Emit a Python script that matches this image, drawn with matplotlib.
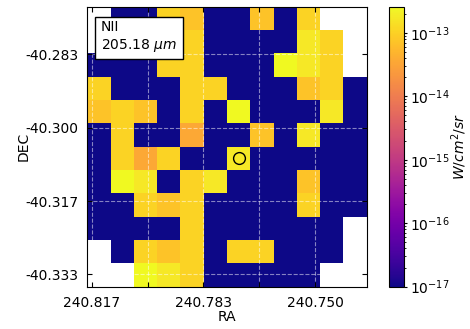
import numpy as np
import matplotlib
matplotlib.use("Agg")
import matplotlib.pyplot as plt
from matplotlib.colors import LogNorm

# ---- data ----
N = np.nan
B = 1e-17      # background (at colour floor)
Y1 = 2.5e-13   # brightest yellow
Y2 = 1.7e-13   # yellow
G = 1.05e-13   # gold
OG = 7.2e-14   # orange-gold
O = 3.5e-14    # orange

flux_rows = [
    [N, B, B, G, OG, B, B, OG, B, G, N, N],
    [N, B, B, G, G, B, B, B, B, Y2, G, N],
    [B, B, B, G, G, B, B, B, Y1, Y2, G, N],
    [G, B, B, B, G, G, B, B, B, OG, G, B],
    [OG, G, OG, B, G, B, Y1, B, B, B, Y2, B],
    [B, G, B, B, O, B, B, OG, B, Y2, B, B],
    [B, G, O, G, B, B, Y2, B, B, B, B, B],
    [B, Y1, Y2, B, G, Y2, B, B, B, OG, B, B],
    [B, B, G, OG, G, B, B, B, B, G, B, B],
    [B, B, B, B, G, B, B, B, B, B, B, N],
    [N, B, G, OG, G, B, G, G, B, B, B, N],
    [N, N, 2.57e-13, Y2, G, B, B, B, B, B, N, N],
]

ra_left, ra_step = 240.81798, 0.0069444
dec_top, dec_step = -40.27251, 0.005303
n_cells = 12

ra_ticks = [240.81667, 240.8, 240.78333, 240.76667, 240.75]
ra_labels = ["240.817", "", "240.783", "", "240.750"]
dec_ticks = [-40.28333, -40.3, -40.31667, -40.33333]
dec_labels = ["-40.283", "-40.300", "-40.317", "-40.333"]

source_ra, source_dec = 240.77284, -40.30698
line_name = "NII\n205.18 $\\mu m$"
vmin, vmax = 1e-17, 2.57e-13

# ---- plot ----
fig = plt.figure(figsize=(4.70, 3.29), dpi=100)
ax = fig.add_axes([0.1857, 0.1286, 0.5945, 0.851])
cax = fig.add_axes([0.8277, 0.1286, 0.0319, 0.851])

data = np.array(flux_rows)
ra_edges = ra_left - ra_step * np.arange(n_cells + 1)
dec_edges = dec_top - dec_step * np.arange(n_cells + 1)
mesh = ax.pcolormesh(ra_edges, dec_edges, np.ma.masked_invalid(data),
                     cmap="plasma", norm=LogNorm(vmin=vmin, vmax=vmax),
                     shading="flat", antialiased=True, linewidth=0)
ax.set_xlim(ra_edges[0], ra_edges[-1])
ax.set_ylim(dec_edges[-1], dec_edges[0])
ax.set_aspect("auto")

ax.plot([source_ra], [source_dec], marker="o", markersize=8.5,
        markerfacecolor="none", markeredgecolor="black", markeredgewidth=1.0)

ax.set_xticks(ra_ticks)
ax.set_xticklabels(ra_labels)
ax.set_yticks(dec_ticks)
ax.set_yticklabels(dec_labels)
ax.tick_params(direction="in", top=True, right=True, length=3.5, pad=6.5,
               labelsize=10)
ax.grid(True, color="white", alpha=0.5, linestyle="--", linewidth=0.8)
ax.set_xlabel("RA", fontsize=10, labelpad=0)
ax.set_ylabel("DEC", fontsize=10, labelpad=-4)

ax.text(0.048, 0.951, line_name, transform=ax.transAxes, fontsize=10,
        va="top", ha="left",
        bbox=dict(boxstyle="square,pad=0.4", facecolor="white",
                  edgecolor="black", linewidth=1.0))

cb = fig.colorbar(mesh, cax=cax)
cb.set_label("$W/cm^2/sr$", fontsize=10, labelpad=-0.5)
cb.ax.tick_params(which="major", length=2.5, pad=2, labelsize=10)
cb.ax.tick_params(which="minor", length=1.5)

fig.savefig("out.png", dpi=100)
